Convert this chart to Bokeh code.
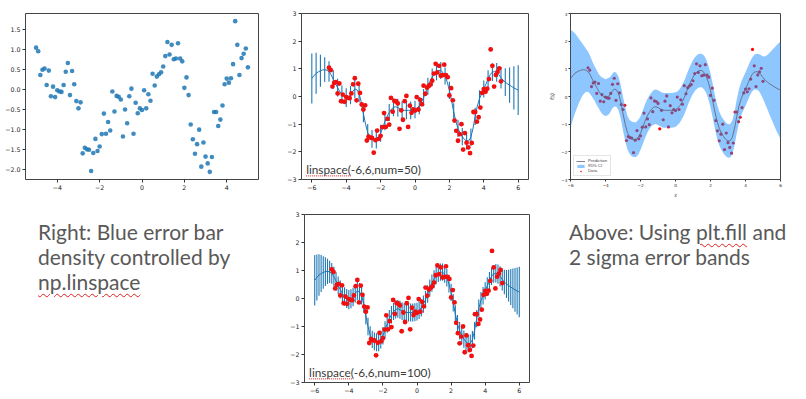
import numpy as np
from bokeh.plotting import figure
from bokeh.models import (Div, Label, Legend, LegendItem, FixedTicker, Range1d,
                          ColumnDataSource)
from bokeh.layouts import row, column
from bokeh.embed import file_html
from bokeh.resources import INLINE

# ---------------- data ----------------
X_DATA = [round(-5.0 + 0.1 * i, 1) for i in range(101)]
Y_DATA = [1.04, 0.95, 0.36, 0.49, 0.52, 0.11, 0.47, -0.17, 0.07, -0.19,
          -0.02, -0.05, -0.06, 0.11, 0.44, 0.66, -0.14, 0.46, 0.13, -0.29,
          -0.47, -0.32, -1.59, -1.45, -1.49, -1.50, -2.03, -1.58, -1.23, -1.53,
          -1.42, -1.11, -0.60, -1.10, -0.81, -1.02, -0.05, -0.55, -0.16, -0.18,
          -0.25, -1.17, -0.50, -0.84, -0.17, 0.02, -1.10, -0.33, -0.59, -0.47,
          -0.51, -0.02, -0.47, -0.12, -0.28, 0.39, 0.10, 0.32, 0.38, 0.43,
          0.57, 0.83, 1.18, 0.87, 1.11, 0.75, 0.77, 1.15, 0.77, 0.70,
          0.04, 0.30, -0.14, -0.87, -1.24, -1.60, -1.36, -1.00, -1.92, -1.32,
          -1.67, -1.84, -2.05, -1.68, -0.56, -0.56, -0.91, -0.75, -0.40, 0.13,
          0.27, 0.17, 0.28, 0.63, 1.70, 1.11, 0.36, 0.78, 0.89, 1.02, 0.55]

X_PRED = [round(-6.0 + 0.125 * i, 3) for i in range(97)]
MEAN = [0.65, 0.75, 0.84, 0.89, 0.93, 0.96, 0.97, 0.95, 0.90, 0.78,
        0.62, 0.47, 0.32, 0.18, 0.07, 0.00, -0.04, -0.01, 0.05, 0.18,
        0.27, 0.24, 0.10, -0.20, -0.62, -1.00, -1.30, -1.46, -1.53, -1.56,
        -1.56, -1.47, -1.33, -1.12, -0.91, -0.72, -0.58, -0.46, -0.39, -0.37,
        -0.40, -0.45, -0.49, -0.50, -0.50, -0.50, -0.50, -0.49, -0.47, -0.42,
        -0.33, -0.20, -0.04, 0.16, 0.37, 0.55, 0.70, 0.82, 0.90, 0.94,
        0.94, 0.87, 0.74, 0.52, 0.22, -0.15, -0.55, -0.90, -1.15, -1.33,
        -1.45, -1.55, -1.61, -1.60, -1.47, -1.15, -0.72, -0.35, -0.08, 0.10,
        0.27, 0.45, 0.64, 0.79, 0.88, 0.90, 0.87, 0.79, 0.68, 0.59,
        0.52, 0.46, 0.41, 0.36, 0.31, 0.27, 0.23]
SIGMA = [0.90, 0.82, 0.74, 0.66, 0.58, 0.51, 0.45, 0.40, 0.37, 0.35,
         0.33, 0.32, 0.32, 0.32, 0.33, 0.34, 0.34, 0.34, 0.33, 0.32,
         0.32, 0.31, 0.31, 0.31, 0.31, 0.31, 0.31, 0.31, 0.32, 0.32,
         0.32, 0.32, 0.31, 0.31, 0.31, 0.31, 0.31, 0.31, 0.32, 0.32,
         0.32, 0.32, 0.32, 0.32, 0.32, 0.32, 0.32, 0.32, 0.32, 0.31,
         0.31, 0.31, 0.31, 0.31, 0.31, 0.31, 0.31, 0.31, 0.31, 0.31,
         0.31, 0.31, 0.31, 0.31, 0.31, 0.31, 0.31, 0.31, 0.31, 0.31,
         0.31, 0.31, 0.31, 0.31, 0.31, 0.31, 0.31, 0.31, 0.31, 0.31,
         0.31, 0.31, 0.31, 0.31, 0.32, 0.33, 0.34, 0.36, 0.39, 0.44,
         0.50, 0.57, 0.64, 0.71, 0.78, 0.84, 0.90]

X_TICKS_1 = [-4, -2, 0, 2, 4]
Y_TICKS_1 = [-2.0, -1.5, -1.0, -0.5, 0.0, 0.5, 1.0, 1.5]
X_TICKS_GP = [-6, -4, -2, 0, 2, 4, 6]
Y_TICKS_GP = [-3, -2, -1, 0, 1, 2, 3]

LABEL_50 = "linspace(-6,6,num=50)"
LABEL_100 = "linspace(-6,6,num=100)"
WAVY = ('text-decoration: underline wavy #e02020; text-decoration-thickness: 1px; '
        'text-underline-offset: 3px')
TEXT_LEFT = ('Right: Blue error bar<br>density controlled by<br>'
             f'<span style="{WAVY}">np.linspace</span>')
TEXT_RIGHT = (f'Above: Using <span style="{WAVY}">plt.fill</span> and<br>'
              '2 sigma error bands')

C0 = "#1f77b4"
RED = "#f01010"
TICK_COLOR = "#333333"


def fmt(v, dec):
    s = f"{abs(v):.{dec}f}"
    return ("\u2212" + s) if v < 0 else s


def make_fig(w, h, xr, yr, bl, br, bt, bb, xt, yt, xdec, ydec, fs):
    p = figure(width=w, height=h, x_range=Range1d(*xr), y_range=Range1d(*yr),
               output_backend="svg", toolbar_location=None,
               min_border_left=bl, min_border_right=br,
               min_border_top=bt, min_border_bottom=bb)
    p.grid.visible = False
    p.outline_line_color = "#444444"
    p.outline_line_width = 1
    p.background_fill_color = "white"
    p.border_fill_color = "white"
    p.xaxis.ticker = FixedTicker(ticks=xt)
    p.yaxis.ticker = FixedTicker(ticks=yt)
    p.xaxis.major_label_overrides = {t: fmt(t, xdec) for t in xt}
    p.yaxis.major_label_overrides = {t: fmt(t, ydec) for t in yt}
    for ax in (p.xaxis, p.yaxis):
        ax.axis_line_color = None
        ax.major_tick_line_color = TICK_COLOR
        ax.major_tick_out = 3
        ax.major_tick_in = 0
        ax.minor_tick_line_color = None
        ax.major_label_text_font_size = fs
        ax.major_label_text_color = "#222222"
        ax.major_label_text_font = "DejaVu Sans"
        ax.major_label_standoff = 2
    return p


# ---------------- plot 1: scatter ----------------
p1 = make_fig(270, 200, (-5.5, 5.5), (-2.24, 1.89), 25, 12, 12, 14,
              X_TICKS_1, Y_TICKS_1, 0, 1, "6.3px")
p1.scatter(X_DATA, Y_DATA, size=4.6, color=C0, alpha=0.85, line_width=0)

# ---------------- plot 2 / 4: error bars ----------------
xp = np.array(X_PRED)
mu = np.array(MEAN)
sg = np.array(SIGMA)

LABEL_X, LABEL_Y = -6.33, -2.64


def errbar_fig(w, h, bl, br, bt, bb, step, label, wavy_len):
    p = make_fig(w, h, (-6.6, 6.6), (-3, 3), bl, br, bt, bb,
                 X_TICKS_GP, Y_TICKS_GP, 0, 0, "6.3px")
    idx = slice(None, None, step)
    src = ColumnDataSource(dict(x=xp[idx], lo=(mu - sg)[idx], hi=(mu + sg)[idx]))
    p.segment(x0="x", y0="lo", x1="x", y1="hi", source=src, color=C0, line_width=1.1)
    p.line(xp, mu, color=C0, line_width=1)
    p.scatter(X_DATA, Y_DATA, size=4.8, color=RED, line_width=0)
    p.add_layout(Label(x=LABEL_X, y=LABEL_Y, text=label, text_font="Lato",
                       text_font_size="11.8px", text_baseline="middle",
                       text_color="#3a3a3a"))
    # red spell-check squiggle under "linspace"
    p.line([LABEL_X, LABEL_X + wavy_len], [LABEL_Y - 0.23, LABEL_Y - 0.23],
           color="#e02020", line_width=1, line_dash="1 1")
    return p


p2 = errbar_fig(270, 200, 31, 12, 12, 20, 2, LABEL_50, 2.6)
p4 = errbar_fig(270, 198, 34, 11, 14, 16, 1, LABEL_100, 2.6)

# ---------------- plot 3: band ----------------
p3 = make_fig(264, 200, (-6, 6), (-3, 3), 30, 24, 13, 20,
              X_TICKS_GP, Y_TICKS_GP, 0, 0, "4.2px")
for ax in (p3.xaxis, p3.yaxis):
    ax.major_tick_out = 2
    ax.major_label_standoff = 1
p3.xaxis.axis_label = "x"
p3.yaxis.axis_label = "f(x)"
for ax in (p3.xaxis, p3.yaxis):
    ax.axis_label_text_font_size = "4.5px"
    ax.axis_label_text_font_style = "italic"
    ax.axis_label_standoff = 3
    ax.axis_label_text_color = "#222222"
pts = p3.scatter(X_DATA, Y_DATA, size=3.2, color="#ff0000", line_width=0)
band = p3.varea(x=xp, y1=mu - 1.96 * sg, y2=mu + 1.96 * sg,
                fill_color="#1e90ff", fill_alpha=0.5)
ln = p3.line(xp, mu, color="#5a5f72", line_width=0.8)
leg = Legend(items=[LegendItem(label="Prediction", renderers=[ln]),
                    LegendItem(label="95% CI", renderers=[band]),
                    LegendItem(label="Data", renderers=[pts])],
             location="bottom_left", label_text_font_size="4.3px",
             label_height=5, glyph_height=4, glyph_width=9, spacing=0,
             padding=2, margin=3, label_standoff=3,
             border_line_color="#cccccc", border_line_width=0.5,
             background_fill_alpha=0.8)
p3.add_layout(leg)

# ---------------- texts ----------------
div_style = ("font-family: Lato, 'Open Sans', sans-serif; font-size: 21px; "
             "line-height: 25px; color: #595959; white-space: nowrap;")
d1 = Div(text=f'<div style="{div_style} padding: 19px 0 0 38px;">{TEXT_LEFT}</div>',
         width=270, height=198, margin=0)
d2 = Div(text=f'<div style="{div_style} padding: 19px 0 0 29px;">{TEXT_RIGHT}</div>',
         width=264, height=198, margin=0)

layout = column(row(p1, p2, p3, spacing=0), row(d1, p4, d2, spacing=0), spacing=0)

open("out.html", "w").write(file_html(layout, INLINE))
